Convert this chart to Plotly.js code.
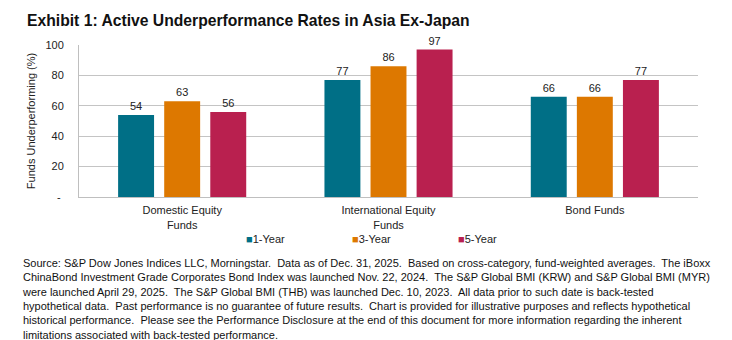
<!DOCTYPE html>
<html>
<head>
<meta charset="utf-8">
<script src="https://cdn.plot.ly/plotly-3.0.1.min.js"></script>
<style>
html,body{margin:0;padding:0;background:#fff;}
#chart{width:732px;height:340px;}
</style>
</head>
<body>
<div id="chart"></div>
<script>
const categories = ["Domestic Equity<br>Funds", "International Equity<br>Funds", "Bond Funds"];
const seriesNames = ["1-Year", "3-Year", "5-Year"];
const oneYear = [54, 77, 66];
const threeYear = [63, 86, 66];
const fiveYear = [56, 97, 77];
const yTickVals = [0, 20, 40, 60, 80, 100];
const yTickText = ["-\u00a0", "20", "40", "60", "80", "100"];
const colors = ["#006f86", "#dd7800", "#b9204f"];

const values = [oneYear, threeYear, fiveYear];
const font = "Liberation Sans, Arial, sans-serif";

const traces = [];
values.forEach((vals, i) => {
  traces.push({
    type: "bar",
    x: categories,
    y: vals,
    name: seriesNames[i],
    marker: {color: colors[i]},
    text: vals.map(String),
    textposition: "outside",
    textfont: {family: font, size: 11, color: "#222"},
    cliponaxis: false,
    showlegend: false,
    hoverinfo: "none"
  });
});
// legend entries: the coloured square is drawn as a glyph right before the name
values.forEach((vals, i) => {
  traces.push({
    type: "scatter",
    mode: "markers",
    x: [null],
    y: [null],
    name: "<span style='color:" + colors[i] + "'>\u25A0</span>" + seriesNames[i],
    marker: {color: "rgba(0,0,0,0)", size: 1},
    showlegend: true,
    hoverinfo: "none"
  });
});

const footer = "Source: S&P Dow Jones Indices LLC, Morningstar.  Data as of Dec. 31, 2025.  Based on cross-category, fund-weighted averages.  The iBoxx<br>" +
  "ChinaBond Investment Grade Corporates Bond Index was launched Nov. 22, 2024.  The S&P Global BMI (KRW) and S&P Global BMI (MYR)<br>" +
  "were launched April 29, 2025.  The S&P Global BMI (THB) was launched Dec. 10, 2023.  All data prior to such date is back-tested<br>" +
  "hypothetical data.  Past performance is no guarantee of future results.  Chart is provided for illustrative purposes and reflects hypothetical<br>" +
  "historical performance.  Please see the Performance Disclosure at the end of this document for more information regarding the inherent<br>" +
  "limitations associated with back-tested performance.";

const layout = {
  width: 732,
  height: 340,
  margin: {l: 79, r: 34, t: 45, b: 143},
  paper_bgcolor: "#fff",
  plot_bgcolor: "#fff",
  font: {family: font, size: 11, color: "#222"},
  title: {
    text: "<b>Exhibit 1: Active Underperformance Rates in Asia Ex-Japan</b>",
    font: {family: font, size: 15.7, color: "#111"},
    xref: "container", yref: "container",
    x: 27/732, xanchor: "left",
    y: 1 - 21/340, yanchor: "middle"
  },
  barmode: "group",
  bargap: 0.33,
  bargroupgap: 0.22,
  xaxis: {
    type: "category",
    showline: true,
    linecolor: "#bfbfbf",
    linewidth: 1,
    ticks: "",
    tickfont: {family: font, size: 11, color: "#222"},
    ticklabelstandoff: 3,
    fixedrange: true
  },
  yaxis: {
    range: [0, 100],
    tickvals: yTickVals,
    ticktext: yTickText,
    showgrid: true,
    gridcolor: "#c4c4c4",
    gridwidth: 1,
    showline: true,
    linecolor: "#bfbfbf",
    linewidth: 1,
    zeroline: false,
    ticks: "",
    ticklabelstandoff: 12,
    tickfont: {family: font, size: 11, color: "#222"},
    title: {text: "Funds Underperforming (%)", font: {family: font, size: 11, color: "#222"}, standoff: 7},
    automargin: false,
    fixedrange: true
  },
  legend: {
    orientation: "h",
    x: (206 - 79) / 619,
    xanchor: "left",
    y: -(239 - 197) / 152,
    yanchor: "middle",
    entrywidth: 61,
    entrywidthmode: "pixels",
    bgcolor: "rgba(0,0,0,0)",
    font: {family: font, size: 11, color: "#222"},
    itemclick: false,
    itemdoubleclick: false
  },
  annotations: [{
    text: footer,
    xref: "paper", yref: "paper",
    x: (20 - 79) / 619, xanchor: "left",
    y: -(255 - 197) / 152, yanchor: "top",
    align: "left",
    showarrow: false,
    font: {family: font, size: 11, color: "#111"}
  }]
};

Plotly.newPlot("chart", traces, layout, {displayModeBar: false, staticPlot: true});
</script>
</body>
</html>
